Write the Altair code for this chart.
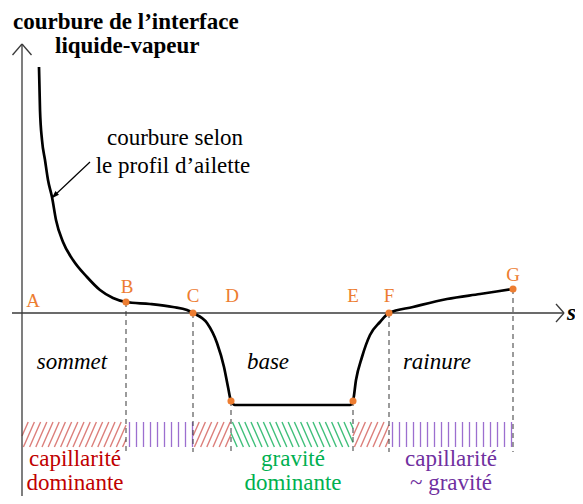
import altair as alt
import pandas as pd
import numpy as np

# ---- data (s along the profile, curvature of the liquid-vapour interface) ----
curve_s = [1.7, 1.8, 2.0, 2.3, 2.6, 3.0, 3.4, 4.1, 5.1, 6.5, 7.8, 9.1, 10.4, 12.8, 15.1, 16.5, 17.1,
           18.5, 19.5, 20.2, 20.6, 20.9, 21.3, 32.8, 33.1, 33.4, 34.0, 34.8, 35.8, 36.7, 39.1, 42.5, 45.8, 49.1]
curve_k = [24.6, 20.3, 17.3, 15.3, 13.3, 11.6, 9.3, 7.1, 5.3, 3.6, 2.3, 1.5, 1.1, 0.9, 0.6, 0.3, 0.0,
           -1.0, -3.0, -5.4, -7.4, -8.8, -9.2, -9.2, -8.8, -6.7, -4.4, -2.2, -0.9, 0.0, 0.6, 1.4, 1.9, 2.4]

pt_names = ["B", "C", "D", "E", "F", "G"]
pt_s = [10.4, 17.1, 20.9, 33.1, 36.7, 49.1]
pt_k = [1.1, 0.0, -8.8, -8.8, 0.0, 2.4]

regime_start = [0.0, 10.4, 17.1, 20.9, 33.1, 36.7]
regime_end = [10.4, 17.1, 20.9, 33.1, 36.7, 49.1]
regime_kind = ["cap", "mix", "cap", "grav", "cap", "mix"]

zone_names = ["sommet", "base", "rainure"]

# ---- styling / layout constants ----
XD = [-1.4, 55.3]
YD = [-18.3, 30.5]
xs = alt.Scale(domain=XD, nice=False, zero=False)
ys = alt.Scale(domain=YD, nice=False, zero=False)
FONT = "Liberation Serif, Times New Roman, serif"
ORANGE = "#ed7d31"
BAND_TOP, BAND_BOT = -10.9, -13.4
DASH_BOT = -13.9

def X(f):
    return alt.X(f, type="quantitative", scale=xs, axis=None)

def Y(f):
    return alt.Y(f, type="quantitative", scale=ys, axis=None)

def rules(df, color, width, dash=None):
    kw = dict(color=color, strokeWidth=width)
    if dash:
        kw["strokeDash"] = dash
    return alt.Chart(df).mark_rule(**kw).encode(
        x=X("x"), x2="x2:Q", y=Y("y"), y2="y2:Q")

# axes
axes_df = pd.DataFrame([
    dict(x=-1.0, x2=54.2, y=0.0, y2=0.0),
    dict(x=0.0, x2=0.0, y=26.9, y2=-19.5),
    dict(x=0.0, x2=-0.95, y=26.9, y2=25.8),
    dict(x=0.0, x2=0.95, y=26.9, y2=25.8),
    dict(x=54.2, x2=53.4, y=0.0, y2=0.9),
    dict(x=54.2, x2=53.4, y=0.0, y2=-0.9),
])
axes = rules(axes_df, "#3a3a3a", 1.3)

# dashed verticals
dash_df = pd.DataFrame(dict(x=pt_s, x2=pt_s, y=pt_k, y2=[DASH_BOT] * len(pt_s)))
dashes = rules(dash_df, "#4a4a4a", 1.1, [5, 4])

# hatch bands
hatch_rows = {"cap": [], "grav": [], "mix": []}
h = BAND_TOP - BAND_BOT
run = 1.1
gap = 0.62
for a, b, kind in zip(regime_start, regime_end, regime_kind):
    if kind == "mix":
        x = a + 0.35
        while x < b - 0.05:
            hatch_rows["mix"].append(dict(x=x, x2=x, y=BAND_BOT, y2=BAND_TOP))
            x += 0.7
        continue
    c = a - run
    while c < b:
        t1 = max(0.0, (a - c) / run)
        t2 = min(1.0, (b - c) / run)
        if t2 > t1:
            xa, xb = c + run * t1, c + run * t2
            if kind == "cap":  # '/' lines
                hatch_rows["cap"].append(dict(x=xa, x2=xb, y=BAND_BOT + h * t1, y2=BAND_BOT + h * t2))
            else:  # '\' lines
                hatch_rows["grav"].append(dict(x=xa, x2=xb, y=BAND_TOP - h * t1, y2=BAND_TOP - h * t2))
        c += gap
hatch_cap = rules(pd.DataFrame(hatch_rows["cap"]), "#dc7e7a", 1.4)
hatch_grav = rules(pd.DataFrame(hatch_rows["grav"]), "#3fbf7a", 1.4)
hatch_mix = rules(pd.DataFrame(hatch_rows["mix"]), "#9c6fcf", 1.3)

# curve
curve = alt.Chart(pd.DataFrame(dict(s=curve_s, k=curve_k))).mark_line(
    color="black", strokeWidth=2.7, interpolate="monotone").encode(x=X("s"), y=Y("k"), order="s:Q")

# points
pts_df = pd.DataFrame(dict(name=pt_names, s=pt_s, k=pt_k))
pts = alt.Chart(pts_df).mark_circle(color=ORANGE, size=50, opacity=1).encode(x=X("s"), y=Y("k"))

# annotation arrow
ann_line = rules(pd.DataFrame([dict(x=6.8, x2=3.3, y=15.1, y2=11.8)]), "black", 1.2)
ann_head = alt.Chart(pd.DataFrame(dict(s=[3.25], k=[11.75]))).mark_point(
    shape="M0,-1L0.6,0.9L-0.6,0.9Z", filled=True, color="black", opacity=1, size=70, angle=226,
    strokeWidth=0).encode(x=X("s"), y=Y("k"))

def texts(rows, **kw):
    df = pd.DataFrame(rows, columns=["s", "k", "t"])
    base = dict(font=FONT, baseline="alphabetic", align="center")
    base.update(kw)
    return alt.Chart(df).mark_text(**base).encode(x=X("s"), y=Y("k"), text="t:N")

title = texts([(-0.9, 28.4, "courbure de l\u2019interface"), (3.3, 26.0, "liquide-vapeur")],
              fontSize=23, fontWeight="bold", align="left", color="black")
ann_txt = texts([(15.3, 16.8, "courbure selon"), (15.1, 14.0, "le profil d\u2019ailette")],
                fontSize=23, color="black")
zones = texts([(5.0, -5.6, zone_names[0]), (24.6, -5.6, zone_names[1]), (41.5, -5.6, zone_names[2])],
              fontSize=23, fontStyle="italic", color="black")
plabels = texts([(1.1, 0.6, "A"), (10.5, 2.0, "B"), (17.1, 1.1, "C"), (21.0, 1.1, "D"),
                 (33.1, 1.1, "E"), (36.7, 1.1, "F"), (49.1, 3.2, "G")],
                fontSize=19, color=ORANGE)
s_lab = texts([(54.5, -0.7, "s")], fontSize=23, fontStyle="italic", fontWeight="bold",
              align="left", color="black")
cap_txt = texts([(5.3, -15.3, "capillarité"), (5.3, -17.7, "dominante")], fontSize=23, color="#c00000")
grav_txt = texts([(27.1, -15.3, "gravité"), (27.1, -17.7, "dominante")], fontSize=23, color="#00b050")
mix_txt = texts([(42.9, -15.3, "capillarité"), (42.9, -17.7, "~ gravité")], fontSize=23, color="#7030a0")

chart = alt.layer(
    hatch_cap, hatch_grav, hatch_mix, dashes, axes, curve, pts, ann_line, ann_head,
    title, ann_txt, zones, plabels, s_lab, cap_txt, grav_txt, mix_txt
).properties(
    width=567, height=488, padding=0, background="white",
    autosize=alt.AutoSizeParams(type="none")
).configure_view(stroke=None)

chart.save("out.html", embed_options={"renderer": "svg", "actions": False})
